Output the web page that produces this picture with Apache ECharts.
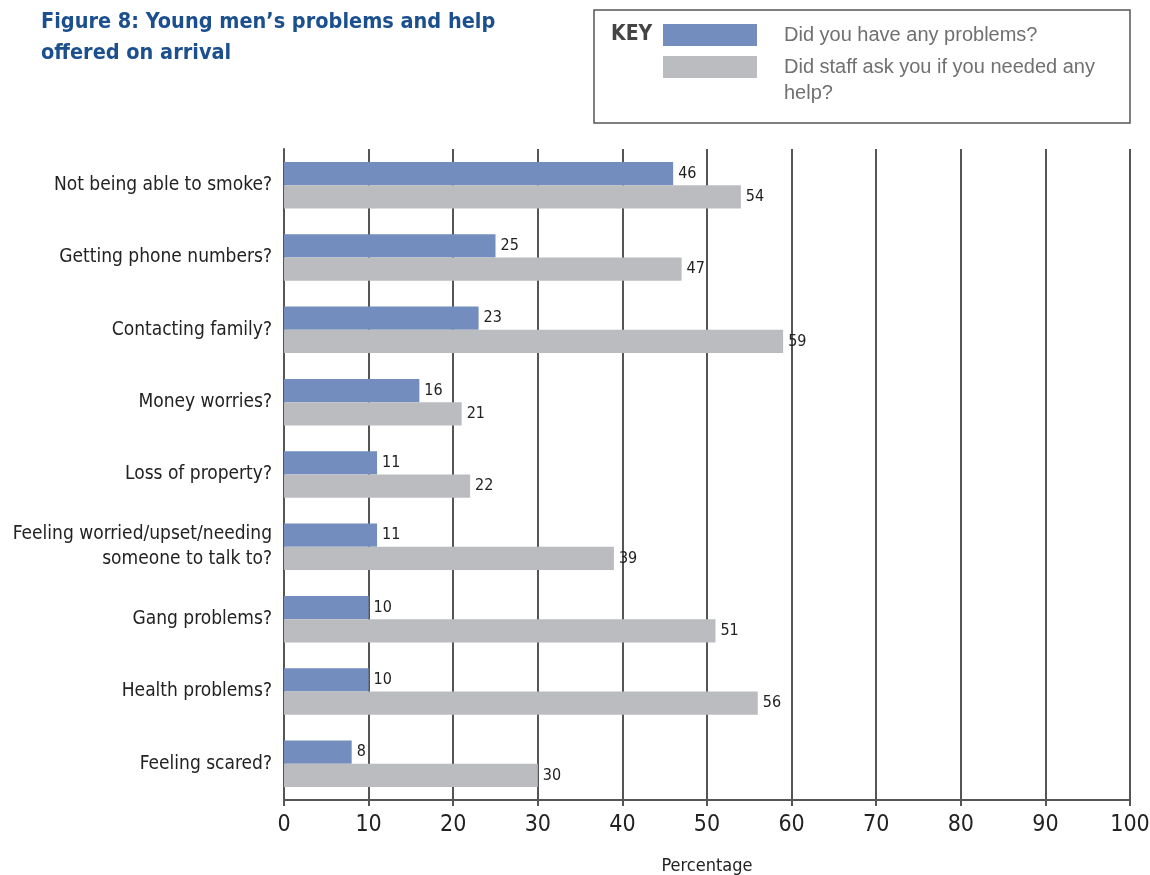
<!DOCTYPE html>
<html>
<head>
<meta charset="utf-8">
<script src="https://cdn.jsdelivr.net/npm/echarts@6/dist/echarts.min.js"></script>
<style>
html,body{margin:0;padding:0;background:#fff;}
#c{width:1150px;height:875px;}
</style>
</head>
<body>
<div id="c"></div>
<script>
const categories = [
  "Not being able to smoke?",
  "Getting phone numbers?",
  "Contacting family?",
  "Money worries?",
  "Loss of property?",
  "Feeling worried/upset/needing\nsomeone to talk to?",
  "Gang problems?",
  "Health problems?",
  "Feeling scared?"
];
const problems = [46, 25, 23, 16, 11, 11, 10, 10, 8];
const askedHelp = [54, 47, 59, 21, 22, 39, 51, 56, 30];
const seriesNames = ["Did you have any problems?", "Did staff ask you if you needed any help?"];
const xTicks = [0, 10, 20, 30, 40, 50, 60, 70, 80, 90, 100];

const NARROW = '"DejaVu Sans Condensed", "Liberation Sans Narrow", "Liberation Sans", sans-serif';
const LEGEND_FONT = '"Liberation Sans", Arial, sans-serif';
const chart = echarts.init(document.getElementById('c'), null, {renderer: 'canvas'});

const valueLabel = {
  show: true, position: 'right', distance: 5,
  fontFamily: NARROW, fontSize: 16, color: '#222'
};

chart.setOption({
  backgroundColor: '#fff',
  animation: false,
  title: {
    text: "Figure 8: Young men’s problems and help\noffered on arrival",
    left: 41, top: 7, padding: 0,
    textStyle: {fontFamily: NARROW, fontWeight: 'bold', fontSize: 21.5, color: '#1B4F8E', lineHeight: 31}
  },
  graphic: [
    {type: 'rect', shape: {x: 594, y: 10, width: 536, height: 113},
     style: {fill: 'none', stroke: '#555', lineWidth: 1.5}, silent: true},
    {type: 'text', left: 611, top: 24,
     style: {text: 'KEY', font: 'bold 21px ' + NARROW, fill: '#444'}}
  ],
  legend: [
    {
      data: [seriesNames[0]], orient: 'vertical', left: 663, top: 22, padding: 0,
      itemWidth: 94, itemHeight: 22, icon: 'rect', selectedMode: false,
      textStyle: {fontFamily: LEGEND_FONT, fontSize: 20, color: '#707070', lineHeight: 26, padding: [0, 0, 0, 22]}
    },
    {
      data: [seriesNames[1]], orient: 'vertical', left: 663, top: 28, padding: 0,
      itemWidth: 94, itemHeight: 22, icon: 'rect', selectedMode: false,
      formatter: function () { return '\nDid staff ask you if you needed any\nhelp?'; },
      textStyle: {fontFamily: LEGEND_FONT, fontSize: 20, color: '#707070', lineHeight: 26, padding: [0, 0, 0, 22]}
    }
  ],
  grid: {left: 284, right: 20, top: 149, bottom: 75, containLabel: false, outerBoundsMode: 'none'},
  xAxis: {
    type: 'value', min: 0, max: 100, interval: 10,
    name: 'Percentage', nameLocation: 'middle', nameGap: 57,
    nameTextStyle: {fontFamily: NARROW, fontSize: 18, color: '#222'},
    axisLine: {show: true, lineStyle: {color: '#555', width: 2}},
    axisTick: {show: true, length: 6, lineStyle: {color: '#555', width: 2}},
    axisLabel: {fontFamily: NARROW, fontSize: 23, color: '#222', margin: 14,
      formatter: function (v) { return xTicks.indexOf(v) >= 0 ? String(v) : ''; }},
    splitLine: {show: true, lineStyle: {color: '#555', width: 2}}
  },
  yAxis: {
    type: 'category', data: categories, inverse: true,
    axisLine: {show: true, lineStyle: {color: '#555', width: 2}},
    axisTick: {show: false},
    axisLabel: {fontFamily: NARROW, fontSize: 19, color: '#222', margin: 12, lineHeight: 25}
  },
  series: [
    {name: seriesNames[0], type: 'bar', data: problems, barGap: '0%', barCategoryGap: '35.6%',
     itemStyle: {color: '#728DBE'}, label: valueLabel},
    {name: seriesNames[1], type: 'bar', data: askedHelp, barGap: '0%', barCategoryGap: '35.6%',
     itemStyle: {color: '#BBBCC0'}, label: valueLabel}
  ]
});
</script>
</body>
</html>
